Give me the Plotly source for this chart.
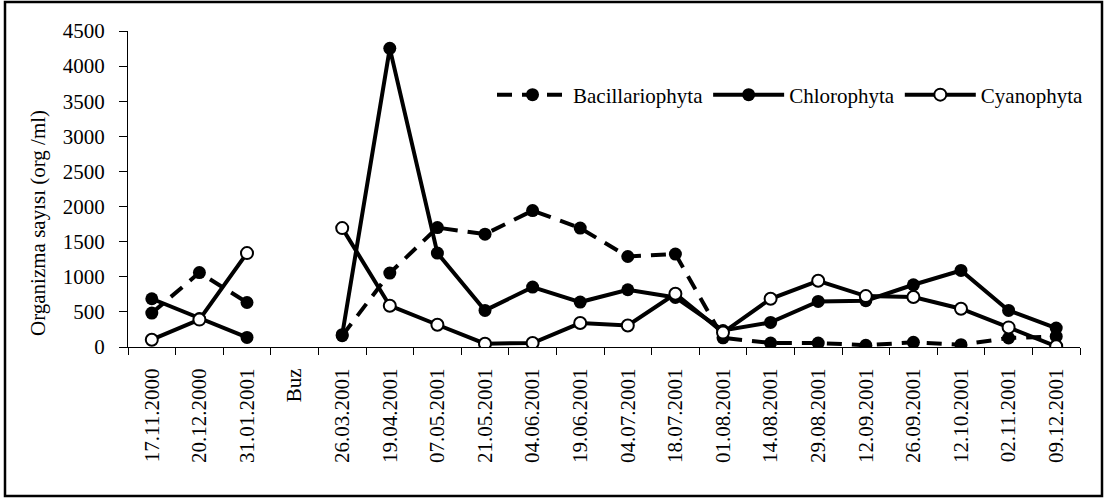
import plotly.graph_objects as go

dates = ["17.11.2000", "20.12.2000", "31.01.2001", "Buz", "26.03.2001", "19.04.2001",
         "07.05.2001", "21.05.2001", "04.06.2001", "19.06.2001", "04.07.2001", "18.07.2001",
         "01.08.2001", "14.08.2001", "29.08.2001", "12.09.2001", "26.09.2001", "12.10.2001",
         "02.11.2001", "09.12.2001"]

bacillariophyta = [483, 1060, 634, None, 160, 1053, 1700, 1607, 1943, 1693, 1289, 1323,
                   130, 57, 57, 25, 66, 33, 128, 151]
chlorophyta = [687, 405, 137, None, 175, 4253, 1337, 521, 853, 640, 815, 706,
               235, 350, 649, 660, 886, 1090, 521, 270]
cyanophyta = [104, 390, 1337, None, 1693, 588, 317, 47, 57, 341, 307, 758,
              205, 687, 943, 725, 711, 545, 279, 10]

font_family = "Liberation Serif, Times New Roman, serif"
fs = 21

fig = go.Figure()
fig.add_trace(go.Scatter(
    x=dates, y=bacillariophyta, name="Bacillariophyta", mode="lines+markers",
    line=dict(color="black", width=4, dash="15px,10px"),
    marker=dict(symbol="circle", size=13, color="black"),
))
fig.add_trace(go.Scatter(
    x=dates, y=chlorophyta, name="Chlorophyta", mode="lines+markers",
    line=dict(color="black", width=4),
    marker=dict(symbol="circle", size=13, color="black"),
))
fig.add_trace(go.Scatter(
    x=dates, y=cyanophyta, name="Cyanophyta", mode="lines+markers",
    line=dict(color="black", width=4),
    marker=dict(symbol="circle", size=12, color="white", line=dict(color="black", width=2)),
))

L, R, T, B = 128, 26, 31, 152
W, H = 1106, 499
pw = W - L - R
ph = H - T - B

def px_x(px):
    return (px - L) / pw

def px_y(py):
    return (H - B - py) / ph

fig.update_layout(
    width=W, height=H,
    margin=dict(l=L, r=R, t=T, b=B, pad=0),
    paper_bgcolor="white", plot_bgcolor="white",
    font=dict(family=font_family, size=fs, color="black"),
    showlegend=True,
    legend=dict(orientation="h", x=px_x(492), y=px_y(95), xanchor="left", yanchor="middle",
                bgcolor="rgba(0,0,0,0)", font=dict(size=fs), itemwidth=71,
                tracegroupgap=0),
    xaxis=dict(
        type="category", categoryorder="array", categoryarray=dates,
        range=[-0.5, len(dates) - 0.5],
        showline=True, linecolor="black", linewidth=1,
        ticks="outside", tickson="boundaries", ticklen=7, tickcolor="black", tickwidth=1,
        tickangle=-90, showgrid=False, zeroline=False,
        ticklabelstandoff=12,
        tickfont=dict(size=fs),
    ),
    yaxis=dict(
        range=[0, 4500], dtick=500, tick0=0,
        showline=True, linecolor="black", linewidth=1,
        ticks="outside", ticklen=8, tickcolor="black", tickwidth=1,
        showgrid=False, zeroline=False,
        ticklabelstandoff=10,
        tickfont=dict(size=fs),
    ),
    shapes=[dict(type="rect", xref="paper", yref="paper",
                 x0=px_x(5), x1=px_x(1102), y0=px_y(496), y1=px_y(2),
                 line=dict(color="black", width=2.5), fillcolor="rgba(0,0,0,0)", layer="below")],
    annotations=[dict(text="Organizma sayısı (org /ml)", xref="paper", yref="paper",
                      x=px_x(38), y=px_y(223), textangle=-90, showarrow=False,
                      xanchor="center", yanchor="middle", font=dict(size=fs))],
)

fig.write_html("out.html", config={"displayModeBar": False},
               post_script="document.body.style.margin='0';document.body.style.overflow='hidden';")
